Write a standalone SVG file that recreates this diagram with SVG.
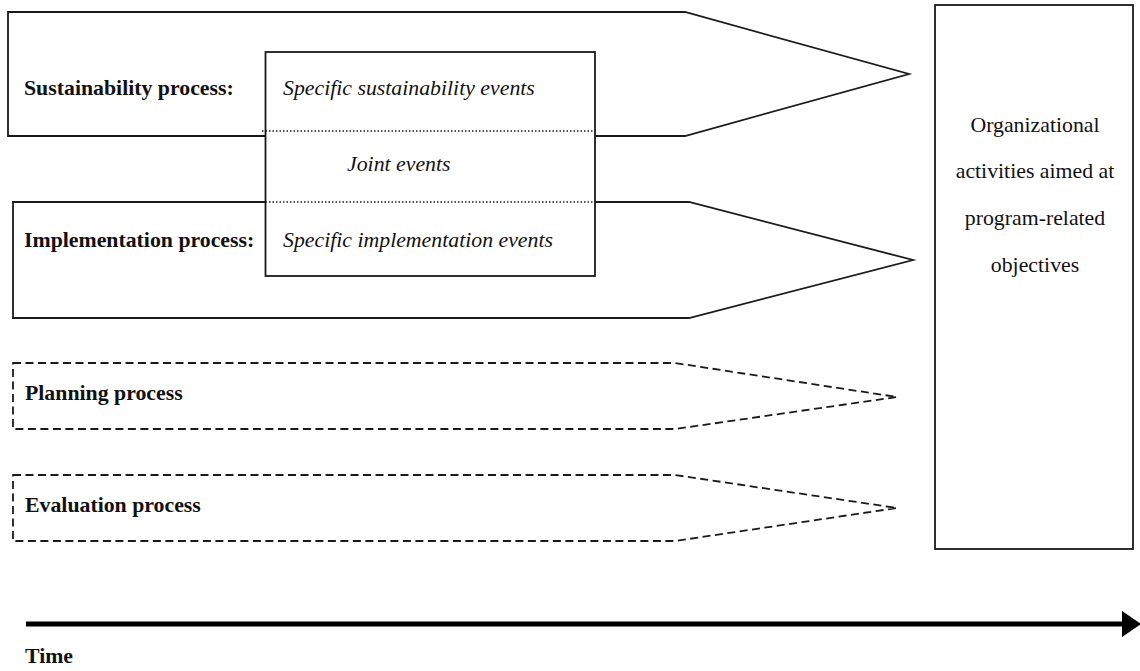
<svg xmlns="http://www.w3.org/2000/svg" width="1140" height="671" viewBox="0 0 1140 671">
<style>
  .solid { fill: #ffffff; stroke: #1a1a1a; stroke-width: 1.8; stroke-linejoin: miter; }
  .dashed { fill: none; stroke: #1a1a1a; stroke-width: 1.8; stroke-dasharray: 8 4.5; stroke-linejoin: round; }
  .dotted { fill: none; stroke: #1a1a1a; stroke-width: 1.4; stroke-dasharray: 1.5 2; }
  .bold { font-family: "Liberation Serif", "Times New Roman", serif; font-weight: bold; font-size: 21.8px; fill: #111; }
  .ital { font-family: "Liberation Serif", "Times New Roman", serif; font-style: italic; font-size: 21.8px; fill: #111; }
  .reg { font-family: "Liberation Serif", "Times New Roman", serif; font-size: 21.8px; fill: #111; text-anchor: middle; }
</style>
<defs>
  <marker id="timehead" markerUnits="userSpaceOnUse" markerWidth="20" markerHeight="28" refX="0" refY="13" orient="auto" viewBox="0 0 20 26">
    <polygon points="0,0 19,13 0,26" fill="#000"/>
  </marker>
</defs>
<rect width="1140" height="671" fill="#ffffff"/>

<g id="sustainability-process">
  <polygon class="solid" points="8,12 685,12 909,74 685,136 8,136"/>
  <text class="bold" x="24" y="95">Sustainability process:</text>
</g>

<g id="implementation-process">
  <polygon class="solid" points="13,202 689,202 913,260 689,318 13,318"/>
  <text class="bold" x="24" y="247">Implementation process:</text>
</g>

<g id="events-box">
  <rect class="solid" x="265.5" y="52" width="329.5" height="224"/>
  <line class="dotted" x1="262" y1="131" x2="595" y2="131"/>
  <line class="dotted" x1="262" y1="202" x2="595" y2="202"/>
  <text class="ital" x="283" y="95">Specific sustainability events</text>
  <text class="ital" x="347" y="171">Joint events</text>
  <text class="ital" x="283" y="247">Specific implementation events</text>
</g>

<g id="planning-process">
  <polygon class="dashed" points="13,363 675,363 897,397 675,429 13,429"/>
  <text class="bold" x="25" y="400">Planning process</text>
</g>

<g id="evaluation-process">
  <polygon class="dashed" points="13,475 675,475 897,508 675,541 13,541"/>
  <text class="bold" x="25" y="512">Evaluation process</text>
</g>

<g id="objectives-box">
  <rect class="solid" x="935" y="5" width="198" height="544" stroke-width="2.2"/>
  <text class="reg" x="1035" y="132">Organizational</text>
  <text class="reg" x="1035" y="178">activities aimed at</text>
  <text class="reg" x="1035" y="225">program-related</text>
  <text class="reg" x="1035" y="272">objectives</text>
</g>

<g id="connectors">
  <line x1="26" y1="624" x2="1122" y2="624" stroke="#000" stroke-width="5" marker-end="url(#timehead)"/>
</g>

<g id="time-label">
  <text class="bold" x="25" y="663" font-size="21px">Time</text>
</g>
</svg>
